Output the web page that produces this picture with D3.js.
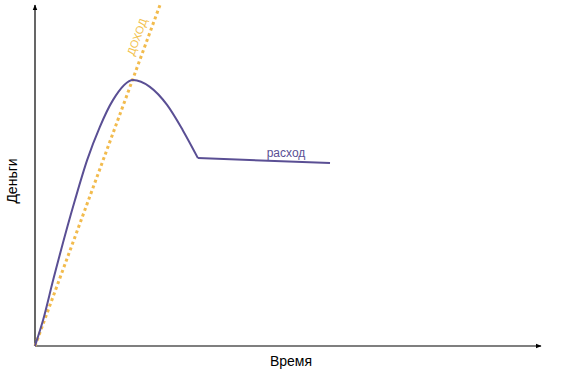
<!DOCTYPE html>
<html>
<head>
  <meta charset="utf8" />
  <style>
    body {
      margin: 0;
      background: #fff;
    }
    text {
      font-family: "Liberation Sans", Arial, sans-serif;
    }
  </style>
</head>
<body>
  <script src="https://d3js.org/d3.v7.min.js"></script>

  <script>
    // money (y) vs time (x), both in arbitrary units 0..100
    var incomeLine = [[0, 0], [24.7, 100]];
    var expenseCurve = [
      [0, 0], [1.6, 7.6], [3.6, 19.4], [7.9, 42.8], [10.3, 54.5],
      [12.8, 64.2], [15.4, 72.1], [19.4, 78.0], [22.7, 76.0],
      [26.1, 70.7], [29.2, 63.3], [32.2, 55.1]
    ];
    var expenseTail = [[32.2, 55.1], [58.3, 53.7]];
    var labels = { x: "Время", y: "Деньги", income: "ДОХОД", expense: "расход" };

    var width = 581,
        height = 371,
        purple = "#5a4f94",
        orange = "#f2bb4d";

    var x = d3.scaleLinear().domain([0, 100]).range([35, 541]);
    var y = d3.scaleLinear().domain([0, 100]).range([346, 5]);

    var svg = d3.select("body").append("svg")
        .attr("width", width)
        .attr("height", height);

    var defs = svg.append("defs");
    defs.append("marker")
        .attr("id", "arrow")
        .attr("viewBox", "0 0 10 10")
        .attr("refX", 9)
        .attr("refY", 5)
        .attr("markerWidth", 6)
        .attr("markerHeight", 6)
        .attr("markerUnits", "userSpaceOnUse")
        .attr("orient", "auto")
      .append("path")
        .attr("d", "M0,1L10,5L0,9Z")
        .attr("fill", "#000");

    // axes (plain lines with arrows, no ticks)
    svg.append("line")
        .attr("x1", x(0)).attr("y1", y(0))
        .attr("x2", x(100)).attr("y2", y(0))
        .attr("stroke", "#000").attr("stroke-width", 1.2)
        .attr("marker-end", "url(#arrow)");
    svg.append("line")
        .attr("x1", x(0)).attr("y1", y(0))
        .attr("x2", x(0)).attr("y2", y(100))
        .attr("stroke", "#000").attr("stroke-width", 1.2)
        .attr("marker-end", "url(#arrow)");

    var line = d3.line().x(d => x(d[0])).y(d => y(d[1]));

    svg.append("path")
        .attr("d", line(incomeLine))
        .attr("fill", "none")
        .attr("stroke", orange)
        .attr("stroke-width", 3)
        .attr("stroke-dasharray", "3 3");

    svg.append("path")
        .attr("d", line.curve(d3.curveMonotoneX)(expenseCurve))
        .attr("fill", "none")
        .attr("stroke", purple)
        .attr("stroke-width", 2);

    svg.append("path")
        .attr("d", line.curve(d3.curveLinear)(expenseTail))
        .attr("fill", "none")
        .attr("stroke", purple)
        .attr("stroke-width", 2);

    // labels
    svg.append("text")
        .attr("x", 291).attr("y", 366)
        .attr("text-anchor", "middle")
        .attr("font-family", "Lato, sans-serif")
        .attr("font-size", 14)
        .text(labels.x);

    svg.append("text")
        .attr("transform", "translate(17,181) rotate(-90)")
        .attr("text-anchor", "middle")
        .attr("font-size", 14)
        .text(labels.y);

    var angle = Math.atan2(y(incomeLine[1][1]) - y(incomeLine[0][1]),
                           x(incomeLine[1][0]) - x(incomeLine[0][0])) * 180 / Math.PI;
    svg.append("text")
        .attr("transform", "translate(137,37) rotate(" + angle + ")")
        .attr("text-anchor", "middle")
        .attr("dy", "0.35em")
        .attr("font-family", "Lato, sans-serif")
        .attr("font-size", 11)
        .attr("fill", "#f2c24f")
        .text(labels.income);

    svg.append("text")
        .attr("x", 286).attr("y", 157)
        .attr("text-anchor", "middle")
        .attr("font-size", 12)
        .attr("fill", purple)
        .text(labels.expense);
  </script>
</body>
</html>
